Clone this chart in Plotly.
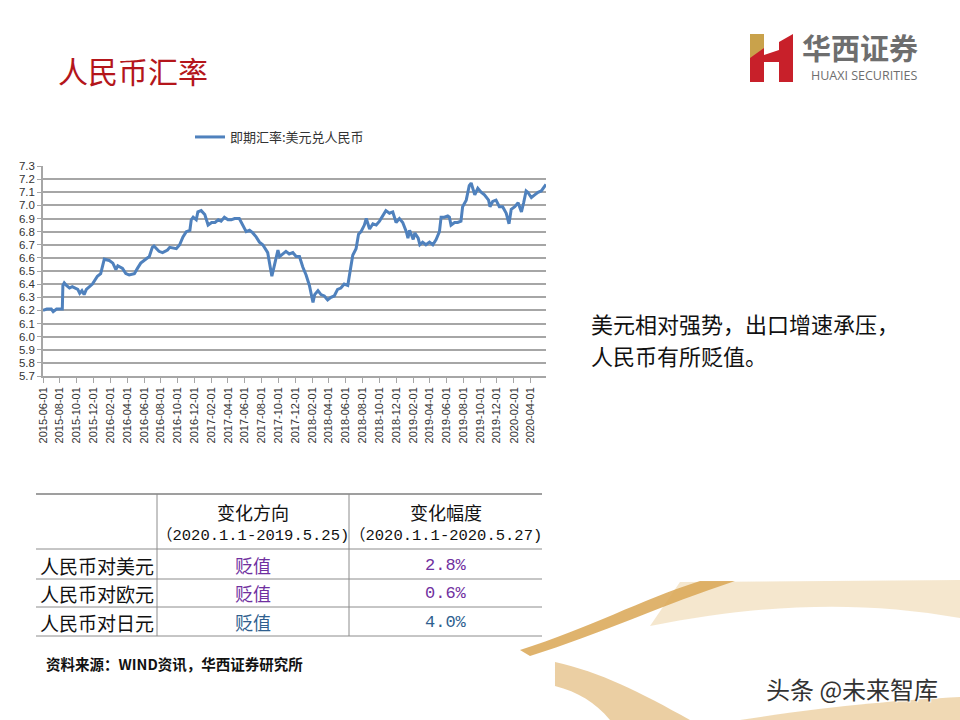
import plotly.graph_objects as go

# ---------------- data ----------------
dates = [
    "2015-06-01", "2015-06-15", "2015-07-01", "2015-07-08", "2015-07-20", "2015-08-10", "2015-08-12", "2015-08-17",
    "2015-08-25", "2015-09-05", "2015-09-15", "2015-09-25", "2015-10-05", "2015-10-12", "2015-10-20", "2015-10-28",
    "2015-11-05", "2015-11-27", "2015-12-15", "2015-12-27", "2016-01-04", "2016-01-09", "2016-01-27", "2016-02-09",
    "2016-02-20", "2016-02-27", "2016-03-15", "2016-03-27", "2016-04-08", "2016-04-27", "2016-05-08", "2016-05-20",
    "2016-06-01", "2016-06-20", "2016-07-01", "2016-07-07", "2016-07-25", "2016-08-07", "2016-08-25", "2016-09-02",
    "2016-09-26", "2016-10-08", "2016-10-20", "2016-11-01", "2016-11-14", "2016-11-19", "2016-11-26", "2016-12-07",
    "2016-12-13", "2016-12-25", "2017-01-07", "2017-01-19", "2017-02-01", "2017-02-13", "2017-02-25", "2017-03-07",
    "2017-03-19", "2017-04-01", "2017-04-13", "2017-04-25", "2017-05-12", "2017-05-24", "2017-06-06", "2017-06-18",
    "2017-06-30", "2017-07-12", "2017-07-24", "2017-08-05", "2017-08-17", "2017-08-23", "2017-09-01", "2017-09-07",
    "2017-09-17", "2017-09-29", "2017-10-05", "2017-10-17", "2017-10-28", "2017-11-09", "2017-11-22", "2017-12-04",
    "2017-12-16", "2017-12-28", "2018-01-09", "2018-01-21", "2018-01-27", "2018-02-03", "2018-02-09", "2018-02-21",
    "2018-03-04", "2018-03-16", "2018-03-28", "2018-04-09", "2018-04-21", "2018-05-03", "2018-05-15", "2018-05-27",
    "2018-06-09", "2018-06-15", "2018-06-27", "2018-07-09", "2018-07-18", "2018-07-27", "2018-08-08", "2018-08-15",
    "2018-08-27", "2018-09-08", "2018-09-20", "2018-10-02", "2018-10-13", "2018-10-25", "2018-11-07", "2018-11-19",
    "2018-12-01", "2018-12-13", "2018-12-25", "2019-01-07", "2019-01-13", "2019-01-19", "2019-02-01", "2019-02-07",
    "2019-02-19", "2019-02-25", "2019-03-07", "2019-03-19", "2019-04-01", "2019-04-13", "2019-04-25", "2019-05-07",
    "2019-05-13", "2019-05-25", "2019-06-06", "2019-06-12", "2019-06-18", "2019-07-01", "2019-07-12", "2019-07-24",
    "2019-07-30", "2019-08-12", "2019-08-23", "2019-08-30", "2019-09-12", "2019-09-23", "2019-10-05", "2019-10-17",
    "2019-11-01", "2019-11-06", "2019-11-16", "2019-11-28", "2019-12-10", "2019-12-22", "2020-01-04", "2020-01-14",
    "2020-01-22", "2020-02-04", "2020-02-16", "2020-02-28", "2020-03-07", "2020-03-16", "2020-03-22", "2020-04-04",
    "2020-04-16", "2020-04-28", "2020-05-10", "2020-05-20", "2020-05-27",
]
usd_cny = [
    6.20, 6.21, 6.21, 6.19, 6.21, 6.21, 6.39, 6.41,
    6.39, 6.37, 6.38, 6.37, 6.36, 6.33, 6.35, 6.32,
    6.36, 6.40, 6.46, 6.48, 6.55, 6.59, 6.58, 6.56,
    6.51, 6.54, 6.52, 6.48, 6.47, 6.48, 6.52, 6.56,
    6.58, 6.61, 6.68, 6.69, 6.65, 6.64, 6.66, 6.68,
    6.67, 6.70, 6.76, 6.80, 6.81, 6.89, 6.91, 6.89,
    6.95, 6.96, 6.93, 6.85, 6.87, 6.87, 6.89, 6.88,
    6.91, 6.89, 6.89, 6.90, 6.90, 6.85, 6.80, 6.81,
    6.79, 6.76, 6.72, 6.70, 6.66, 6.64, 6.53, 6.46,
    6.55, 6.66, 6.61, 6.63, 6.65, 6.63, 6.64, 6.61,
    6.61, 6.53, 6.47, 6.39, 6.32, 6.26, 6.32, 6.35,
    6.32, 6.31, 6.28, 6.30, 6.31, 6.36, 6.37, 6.40,
    6.39, 6.48, 6.62, 6.67, 6.78, 6.80, 6.85, 6.90,
    6.82, 6.86, 6.85, 6.88, 6.92, 6.96, 6.94, 6.95,
    6.87, 6.90, 6.87, 6.80, 6.75, 6.81, 6.74, 6.79,
    6.75, 6.70, 6.72, 6.70, 6.72, 6.70, 6.74, 6.80,
    6.91, 6.91, 6.92, 6.91, 6.85, 6.87, 6.87, 6.88,
    6.99, 7.04, 7.15, 7.17, 7.08, 7.13, 7.10, 7.08,
    7.04, 6.99, 7.03, 7.04, 6.99, 6.99, 6.94, 6.86,
    6.97, 6.99, 7.02, 6.95, 7.02, 7.11, 7.10, 7.06,
    7.08, 7.10, 7.11, 7.14, 7.16,
]
series_name = "即期汇率:美元兑人民币"

table_header = ["变化方向", "变化幅度"]
table_periods = ["（2020.1.1-2019.5.25)", "（2020.1.1-2020.5.27)"]
table_rows = ["人民币对美元", "人民币对欧元", "人民币对日元"]
table_direction = ["贬值", "贬值", "贬值"]
table_change = ["2.8%", "0.6%", "4.0%"]

title_text = "人民币汇率"
comment_lines = ["美元相对强势，出口增速承压，", "人民币有所贬值。"]
source_text = "资料来源：WIND资讯，华西证券研究所"
watermark = "头条 @未来智库"

# ---------------- helpers (page pixels -> paper) ----------------
W, H = 960, 720
def px(x):
    return x / W
def py(y):
    return 1 - y / H
def path(points, close=True):
    s = "M " + " L ".join(f"{px(x):.5f},{py(y):.5f}" for x, y in points)
    return s + (" Z" if close else "")
def cpath(cmds):
    out = []
    for c in cmds:
        op, pts = c[0], c[1:]
        out.append(op + " " + " ".join(f"{px(x):.5f},{py(y):.5f}" for x, y in pts))
    return " ".join(out) + " Z"

CJK = "Noto Sans CJK SC"
fig = go.Figure()

fig.add_trace(go.Scatter(
    x=dates, y=usd_cny, mode="lines", name=series_name,
    line=dict(color="#4f81bd", width=3), showlegend=True,
))

shapes = []
annotations = []

# ---- decorative gold swooshes (bottom right) ----
shapes.append(dict(type="path", xref="paper", yref="paper", layer="below",
                   path=cpath([("M", (680, 582)), ("L", (960, 580)), ("L", (960, 618)),
                               ("C", (860, 600), (760, 604), (650, 626))]),
                   fillcolor="#f1dfbd", opacity=0.75, line=dict(width=0)))
shapes.append(dict(type="path", xref="paper", yref="paper", layer="below",
                   path=cpath([("M", (520, 650)), ("C", (590, 628), (640, 600), (700, 581)),
                               ("L", (735, 581)), ("C", (665, 604), (600, 634), (530, 656))]),
                   fillcolor="#d9a653", opacity=0.85, line=dict(width=0)))
shapes.append(dict(type="path", xref="paper", yref="paper", layer="below",
                   path=cpath([("M", (555, 662)), ("C", (600, 672), (640, 692), (690, 720)),
                               ("L", (610, 720)), ("C", (595, 702), (578, 692), (555, 686))]),
                   fillcolor="#e2bb7c", opacity=0.7, line=dict(width=0)))
shapes.append(dict(type="path", xref="paper", yref="paper", layer="below",
                   path=cpath([("M", (740, 720)), ("C", (830, 706), (900, 700), (960, 697)),
                               ("L", (960, 720))]),
                   fillcolor="#e9c994", opacity=0.7, line=dict(width=0)))

# ---- logo ----
red = "#c8202a"
gold = "#c9a24b"
shapes.append(dict(type="path", xref="paper", yref="paper", path=path([(750, 34), (764, 34), (764, 82), (750, 82)]),
                   fillcolor=red, line=dict(width=0)))
shapes.append(dict(type="path", xref="paper", yref="paper", path=path([(779, 42), (793, 34), (793, 82), (779, 82)]),
                   fillcolor=red, line=dict(width=0)))
shapes.append(dict(type="path", xref="paper", yref="paper", path=path([(764, 55), (779, 50), (779, 62), (764, 62)]),
                   fillcolor=red, line=dict(width=0)))
shapes.append(dict(type="path", xref="paper", yref="paper", path=path([(750, 34), (764, 34), (764, 48), (750, 58)]),
                   fillcolor=gold, line=dict(width=0)))
annotations.append(dict(xref="paper", yref="paper", x=px(801), y=py(47), xanchor="left", yanchor="middle",
                        text="华西证券", showarrow=False, borderpad=0,
                        font=dict(family=CJK, size=29, color="#6e6e6e", weight="bold")))
annotations.append(dict(xref="paper", yref="paper", x=px(810), y=py(76), xanchor="left", yanchor="middle",
                        text="HUAXI SECURITIES", showarrow=False, borderpad=0,
                        font=dict(family="Open Sans", size=12.5, color="#6e6e6e")))

# ---- title ----
annotations.append(dict(xref="paper", yref="paper", x=px(56), y=py(70), xanchor="left", yanchor="middle",
                        text=title_text, showarrow=False,
                        font=dict(family=CJK, size=30, color="#b4161b")))

# ---- commentary ----
for i, line in enumerate(comment_lines):
    annotations.append(dict(xref="paper", yref="paper", x=px(590), y=py(323 + 32 * i), xanchor="left",
                            yanchor="middle", text=line, showarrow=False, borderpad=0,
                            font=dict(family=CJK, size=22, color="#111111")))

# ---- table ----
tl, tc1, tc2, tr = 36, 157, 349, 542
hy = [494, 549, 579, 607, 636]
shapes.append(dict(type="line", xref="paper", yref="paper", x0=px(tl), x1=px(tr), y0=py(hy[0]), y1=py(hy[0]),
                   line=dict(color="#404040", width=1.2)))
for yy in hy[1:]:
    shapes.append(dict(type="line", xref="paper", yref="paper", x0=px(tl), x1=px(tr), y0=py(yy), y1=py(yy),
                       line=dict(color="#8c8c8c", width=1)))
for xx in (tc1, tc2):
    shapes.append(dict(type="line", xref="paper", yref="paper", x0=px(xx), x1=px(xx), y0=py(hy[0]), y1=py(hy[-1]),
                       line=dict(color="#8c8c8c", width=1)))
col_c = [(tc1 + tc2) / 2, (tc2 + tr) / 2]
for j in range(2):
    annotations.append(dict(xref="paper", yref="paper", x=px(col_c[j]), y=py(512), xanchor="center",
                            yanchor="middle", text=table_header[j], showarrow=False, borderpad=0,
                            font=dict(family=CJK, size=18, color="#111111")))
    annotations.append(dict(xref="paper", yref="paper", x=px(col_c[j]), y=py(536), xanchor="center",
                            yanchor="middle", text=table_periods[j], showarrow=False, borderpad=0,
                            font=dict(family="Liberation Mono, " + CJK, size=15.5, color="#111111")))
row_y = [565, 593, 622]
row_colors = ["#7030a0", "#7030a0", "#2f5f8f"]
for i in range(3):
    annotations.append(dict(xref="paper", yref="paper", x=px(38), y=py(row_y[i]), xanchor="left",
                            yanchor="middle", text=table_rows[i], showarrow=False,
                            font=dict(family=CJK, size=19, color="#111111")))
    annotations.append(dict(xref="paper", yref="paper", x=px(col_c[0]), y=py(row_y[i]), xanchor="center",
                            yanchor="middle", text=table_direction[i], showarrow=False,
                            font=dict(family=CJK, size=18, color=row_colors[i])))
    annotations.append(dict(xref="paper", yref="paper", x=px(col_c[1]), y=py(row_y[i]), xanchor="center",
                            yanchor="middle", text=table_change[i], showarrow=False,
                            font=dict(family="Liberation Mono", size=17, color=row_colors[i])))

# ---- source ----
annotations.append(dict(xref="paper", yref="paper", x=px(44), y=py(663), xanchor="left", yanchor="middle",
                        text=source_text, showarrow=False,
                        font=dict(family=CJK, size=14.5, color="#111111", weight="bold")))

# ---- watermark ----
annotations.append(dict(xref="paper", yref="paper", x=px(940), y=py(688), xanchor="right", yanchor="middle",
                        text=watermark, showarrow=False,
                        font=dict(family=CJK, size=24, color="#333333", shadow="1px 1px 1px #ffffff")))

grid = "#a6a6a6"
fig.update_layout(
    width=W, height=H,
    margin=dict(l=0, r=0, t=0, b=0),
    paper_bgcolor="white", plot_bgcolor="white",
    showlegend=True,
    legend=dict(x=px(190), y=py(137), xanchor="left", yanchor="middle", orientation="h",
                font=dict(family=CJK, size=13, color="#333333"), bgcolor="rgba(0,0,0,0)",
                itemwidth=30),
    xaxis=dict(
        domain=[px(43), px(546)], type="date", range=["2015-06-01", "2020-05-27"],
        tick0="2015-06-01", dtick="M2", tickformat="%Y-%m-%d", tickangle=-90,
        showgrid=False, showline=True, linecolor=grid, linewidth=1.5,
        ticks="outside", ticklen=5, tickcolor=grid, tickwidth=1,
        tickfont=dict(family="Liberation Sans", size=11, color="#333333"),
        automargin=False, zeroline=False, fixedrange=True,
    ),
    yaxis=dict(
        domain=[py(376), py(166)], range=[5.7, 7.3], dtick=0.1, tick0=5.7, tickformat=".1f",
        showgrid=True, gridcolor=grid, gridwidth=1.6,
        showline=True, linecolor=grid, linewidth=1.5,
        ticks="outside", ticklen=4, tickcolor=grid,
        tickfont=dict(family="Liberation Sans", size=11.5, color="#333333"),
        automargin=False, zeroline=False, fixedrange=True,
    ),
    shapes=shapes,
    annotations=annotations,
)

fig.write_html("out.html", config={"displayModeBar": False},
               post_script="document.body.style.margin='0';document.body.style.overflow='hidden';")
